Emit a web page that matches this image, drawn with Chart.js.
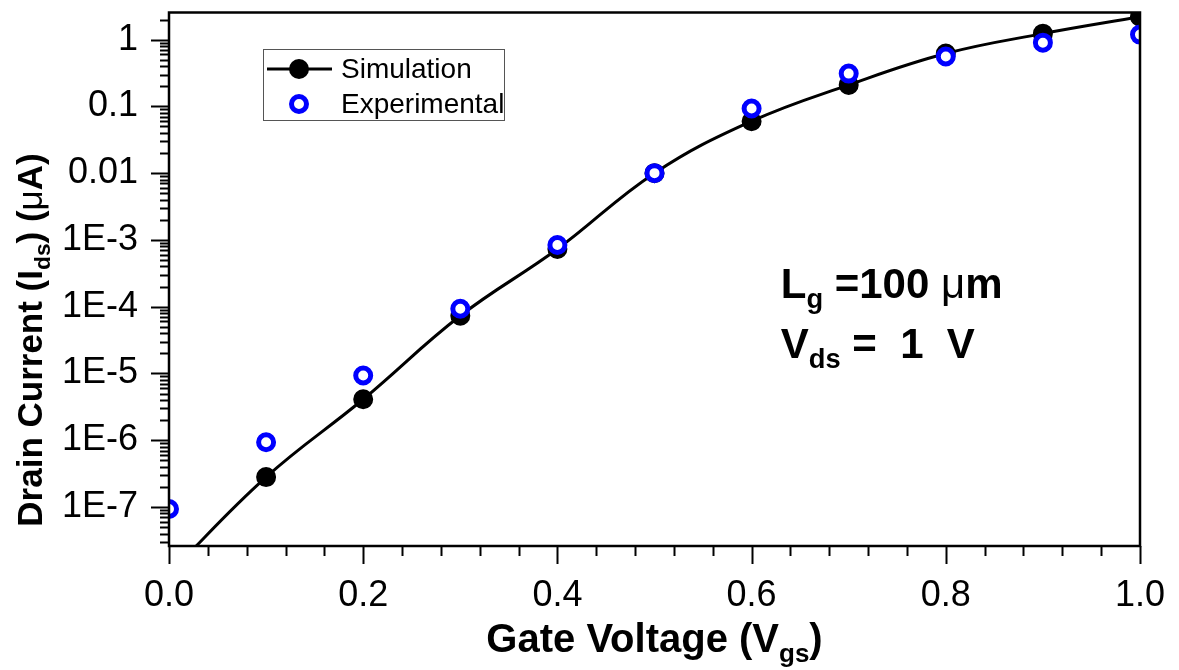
<!DOCTYPE html>
<html>
<head>
<meta charset="utf-8">
<script src="https://cdn.jsdelivr.net/npm/chart.js@4.4.1/dist/chart.umd.min.js"></script>
<style>
  html, body { margin: 0; padding: 0; background: #fff; }
  #wrap { width: 1179px; height: 670px; }
</style>
</head>
<body>
<div id="wrap"><canvas id="cavas-chart" width="1179" height="670"></canvas></div>
<script>
// data (Vgs in V, Ids in uA)
var simVoltage = [0.0, 0.1, 0.2, 0.3, 0.4, 0.5, 0.6, 0.7, 0.8, 0.9, 1.0];
var simCurrent = [1.0e-8, 2.8e-7, 4.1e-6, 7.3e-5, 7.3e-4, 1.0e-2, 0.06, 0.21, 0.62, 1.23, 2.2];
var expVoltage = [0.0, 0.1, 0.2, 0.3, 0.4, 0.5, 0.6, 0.7, 0.8, 0.9, 1.0];
var expCurrent = [9.3e-8, 9.3e-7, 9.3e-6, 9.3e-5, 8.4e-4, 1.0e-2, 0.093, 0.31, 0.56, 0.9, 1.19];

var xTicks = [0.0, 0.2, 0.4, 0.6, 0.8, 1.0];
var yTicks = [1e-7, 1e-6, 1e-5, 1e-4, 1e-3, 0.01, 0.1, 1];
var yTickLabels = ['1E-7', '1E-6', '1E-5', '1E-4', '1E-3', '0.01', '0.1', '1'];

var FONT = "'Liberation Sans', Arial, sans-serif";

function pairs(xs, ys) {
    return xs.map(function(x, i) { return {x: x, y: ys[i]}; });
}

// text with subscripts, parts = [{t, sub, w}]
function drawRich(ctx, parts, x, y, size, weight, align) {
    var total = 0;
    parts.forEach(function(p) {
        var s = p.sub ? size * 0.65 : size;
        ctx.font = (p.w || weight) + ' ' + s + 'px ' + FONT;
        p._w = ctx.measureText(p.t).width;
        total += p._w;
    });
    var cx = align === 'center' ? x - total / 2 : x;
    ctx.textAlign = 'left';
    ctx.textBaseline = 'alphabetic';
    parts.forEach(function(p) {
        var s = p.sub ? size * 0.65 : size;
        ctx.font = (p.w || weight) + ' ' + s + 'px ' + FONT;
        ctx.fillText(p.t, cx, y + (p.sub ? size * 0.24 : 0));
        cx += p._w;
    });
}

var framePlugin = {
    id: 'frame',
    afterDraw: function(chart) {
        var ctx = chart.ctx;
        var a = chart.chartArea;
        var xs = chart.scales.x, ys = chart.scales.y;
        ctx.save();
        ctx.strokeStyle = '#000';
        ctx.fillStyle = '#000';

        // x ticks
        ctx.lineWidth = 2;
        for (var i = 0; i <= 25; i++) {
            var v = i * 0.04;
            var px = Math.round(xs.getPixelForValue(v)) + 0.5;
            var len = (i % 5 === 0) ? 18 : 10;
            ctx.beginPath();
            ctx.moveTo(px, a.bottom);
            ctx.lineTo(px, a.bottom + len);
            ctx.stroke();
        }
        // y ticks (log)
        for (var e = -8; e <= 0; e++) {
            for (var m = 1; m <= 9; m++) {
                var val = m * Math.pow(10, e);
                if (val < ys.min || val > ys.max) continue;
                var py = Math.round(ys.getPixelForValue(val)) + 0.5;
                var l = (m === 1) ? 18 : 9;
                ctx.beginPath();
                ctx.moveTo(a.left, py);
                ctx.lineTo(a.left - l, py);
                ctx.stroke();
            }
        }
        // box
        ctx.lineWidth = 2.5;
        ctx.strokeRect(a.left, a.top, a.right - a.left, a.bottom - a.top);

        // axis titles
        drawRich(ctx, [{t: 'Gate Voltage (V'}, {t: 'gs', sub: true}, {t: ')'}],
            (a.left + a.right) / 2, 652, 40, 'bold', 'center');
        ctx.save();
        ctx.translate(42, 340);
        ctx.rotate(-Math.PI / 2);
        drawRich(ctx, [{t: 'Drain Current (I'}, {t: 'ds', sub: true}, {t: ') ('}, {t: '\u03bc', w: 'normal'}, {t: 'A)'}],
            0, 0, 35, 'bold', 'center');
        ctx.restore();

        // annotation
        var ax = xs.getPixelForValue(0.630);
        drawRich(ctx, [{t: 'L'}, {t: 'g', sub: true}, {t: ' =100 '}, {t: '\u03bc', w: 'normal'}, {t: 'm'}],
            ax, ys.getPixelForValue(1.35e-4), 42, 'bold', 'left');
        drawRich(ctx, [{t: 'V'}, {t: 'ds', sub: true}, {t: ' =  1  V'}],
            ax, ys.getPixelForValue(1.7e-5), 42, 'bold', 'left');

        // legend
        ctx.lineWidth = 1;
        ctx.strokeStyle = '#555';
        ctx.strokeRect(263.5, 49.5, 241, 71);
        ctx.strokeStyle = '#000';
        ctx.lineWidth = 3;
        ctx.beginPath();
        ctx.moveTo(267, 69);
        ctx.lineTo(332, 69);
        ctx.stroke();
        ctx.beginPath();
        ctx.arc(299, 69, 10, 0, Math.PI * 2);
        ctx.fill();
        ctx.strokeStyle = '#0000ff';
        ctx.lineWidth = 5;
        ctx.beginPath();
        ctx.arc(299, 104, 7.5, 0, Math.PI * 2);
        ctx.stroke();
        ctx.fillStyle = '#000';
        ctx.font = '28px ' + FONT;
        ctx.textAlign = 'left';
        ctx.textBaseline = 'middle';
        ctx.fillText('Simulation', 341, 70);
        ctx.fillText('Experimental', 341, 105);
        ctx.restore();
    }
};

function noPad(scale) {
    scale.paddingTop = 0;
    scale.paddingBottom = 0;
    scale.paddingLeft = 0;
    scale.paddingRight = 0;
}

var ctx = document.getElementById('cavas-chart').getContext('2d');
window.myChart = new Chart(ctx, {
    type: 'line',
    data: {
        datasets: [
        {
            label: 'Simulation',
            order: 2,
            data: pairs(simVoltage, simCurrent),
            borderColor: '#000',
            backgroundColor: '#000',
            borderWidth: 3,
            pointRadius: simVoltage.map(function(v, i) { return i === 0 ? 0 : 9; }),
            pointBorderWidth: 2,
            pointBorderColor: '#000',
            pointBackgroundColor: '#000',
            tension: 0.4,
            fill: false
        },
        {
            label: 'Experimental',
            order: 1,
            data: pairs(expVoltage, expCurrent),
            showLine: false,
            pointRadius: 7.5,
            pointBorderWidth: 5,
            pointBorderColor: '#0000ff',
            pointBackgroundColor: '#fff'
        }]
    },
    options: {
        responsive: false,
        animation: false,
        devicePixelRatio: 1,
        layout: { padding: { top: 11, right: 39, left: 0, bottom: 0 } },
        plugins: {
            legend: { display: false },
            tooltip: { enabled: false }
        },
        scales: {
            x: {
                type: 'linear',
                min: 0,
                max: 1,
                grid: { display: false, drawTicks: false },
                border: { display: false },
                afterBuildTicks: function(scale) {
                    scale.ticks = xTicks.map(function(v) { return {value: v}; });
                },
                afterFit: function(scale) { scale.height = 124; noPad(scale); },
                ticks: {
                    padding: 28,
                    color: '#000',
                    font: { family: FONT, size: 36 },
                    maxRotation: 0,
                    callback: function(v) { return v.toFixed(1); }
                }
            },
            y: {
                type: 'logarithmic',
                min: 2.6e-8,
                max: 2.55,
                grid: { display: false, drawTicks: false },
                border: { display: false },
                afterBuildTicks: function(scale) {
                    scale.ticks = yTicks.map(function(v) { return {value: v}; });
                },
                afterFit: function(scale) { scale.width = 169; noPad(scale); },
                ticks: {
                    padding: 31,
                    color: '#000',
                    font: { family: FONT, size: 36 },
                    callback: function(v, i) { return yTickLabels[i]; }
                }
            }
        }
    },
    plugins: [framePlugin]
});
</script>
</body>
</html>
